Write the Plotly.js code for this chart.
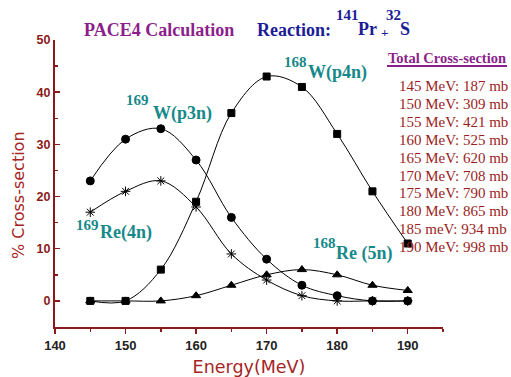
<!DOCTYPE html>
<html><head><meta charset="utf-8">
<script src="https://cdn.plot.ly/plotly-3.0.1.min.js"></script>
<style>html,body{margin:0;padding:0;background:#fff}#c{width:511px;height:377px}</style>
</head><body><div id="c"></div>
<script>
const energy = [145, 150, 155, 160, 165, 170, 175, 180, 185, 190];
const w_p3n  = [23, 31, 33, 27, 16, 8, 3, 1, 0, 0];
const re_4n  = [17, 21, 23, 18, 9, 4, 1, 0, 0, 0];
const w_p4n  = [0, 0, 6, 19, 36, 43, 41, 32, 21, 11];
const re_5n  = [0, 0, 0, 1, 3, 5, 6, 5, 3, 2];
const totalE = ['145 MeV', '150 MeV', '155 MeV', '160 MeV', '165 MeV', '170 MeV', '175 MeV', '180 MeV', '185 meV', '190 MeV'];
const totalCS = [187, 309, 421, 525, 620, 708, 790, 865, 934, 998];

const M = {l:55, r:68, t:40, b:50}, W = 511, H = 377;
const pw = W - M.l - M.r, ph = H - M.t - M.b;
const px = x => (x - M.l) / pw;
const py = y => (H - M.b - y) / ph;

function tr(y, sym, size) {
  return {
    x: energy, y: y, type: 'scatter', mode: 'lines+markers',
    line: {color: '#000', width: 1, shape: 'spline', smoothing: 1},
    marker: {symbol: sym, size: size, color: '#000', line: {color: '#000', width: 1}},
    hoverinfo: 'skip', showlegend: false
  };
}
const data = [
  tr(w_p3n, 'circle', 8),
  tr(re_4n, 'asterisk-open', 8),
  tr(w_p4n, 'square', 7),
  tr(re_5n, 'triangle-up', 8)
];

const serif = 'Liberation Serif, Times New Roman, serif';
const teal = '#17898a';
const blue = '#1c1c96';
const ann = [];
function A(x, y, text, size, color, xa, extra) {
  ann.push(Object.assign({x: px(x), y: py(y), text: text, xanchor: xa || 'left', yanchor: 'middle',
    font: {family: serif, size: size, color: color}}, extra || {}));
}
A(82, 30, '<b>PACE4 Calculation</b>', 18, '#8b1f8b');
A(255, 30, '<b>Reaction:</b>', 18, blue);
A(334, 15, '<b>141</b>', 15, blue);
A(356, 29, '<b>Pr</b>', 18, blue);
A(379, 33, '<b>+</b>', 13, blue);
A(384, 15, '<b>32</b>', 15, blue);
A(398, 29, '<b>S</b>', 18, blue);

A(124, 100, '<b>169</b>', 15, teal);
A(151, 113, '<b>W(p3n)</b>', 18, teal);
A(74, 225, '<b>169</b>', 15, teal);
A(98, 232, '<b>Re(4n)</b>', 18, teal);
A(282, 62, '<b>168</b>', 15, teal);
A(306, 72, '<b>W(p4n)</b>', 18, teal);
A(311, 243, '<b>168</b>', 15, teal);
A(334, 253, '<b>Re (5n)</b>', 18, teal);

A(447, 58, '<b>Total Cross-section</b>', 14.5, '#8b1f8b', 'center');
totalE.forEach((e, i) => {
  A(397, 86 + i * 17.9, e + ': ' + totalCS[i] + ' mb', 15, '#9a1e1e');
});
A(18, 195, '% Cross-section', 16, '#a52525', 'center', {textangle: -90, font: {family: 'DejaVu Sans, sans-serif', size: 16, color: '#a52525'}});
ann.forEach(a => { a.xref = 'paper'; a.yref = 'paper'; a.showarrow = false; });

const axisRed = '#8b1a1a';
const layout = {
  width: W, height: H, margin: M,
  paper_bgcolor: '#fff', plot_bgcolor: '#fff',
  xaxis: {
    range: [140, 195], tickvals: [140, 150, 160, 170, 180, 190],
    showgrid: false, zeroline: false, showline: true, linecolor: axisRed, linewidth: 2,
    ticks: 'outside', ticklen: 5, tickwidth: 1.5, tickcolor: axisRed,
    minor: {dtick: 5, tick0: 140, ticks: 'outside', ticklen: 3, tickcolor: axisRed},
    tickfont: {family: 'Liberation Sans, Arial, sans-serif', size: 13, color: '#222', weight: 'bold'},
    title: {text: 'Energy(MeV)', font: {family: 'DejaVu Sans, sans-serif', size: 17.5, color: '#a52525'}, standoff: 10}
  },
  yaxis: {
    range: [-5, 50], tickvals: [0, 10, 20, 30, 40, 50],
    showgrid: false, zeroline: false, showline: true, linecolor: axisRed, linewidth: 2,
    ticks: 'inside', ticklen: 5, tickwidth: 1.5, tickcolor: axisRed,
    minor: {dtick: 5, tick0: 0, ticks: 'inside', ticklen: 3, tickcolor: axisRed},
    tickfont: {family: 'Liberation Sans, Arial, sans-serif', size: 12.5, color: axisRed, weight: 'bold'}
  },
  annotations: ann,
  shapes: [
    {type: 'line', xref: 'paper', yref: 'paper', x0: px(387), x1: px(507), y0: py(66), y1: py(66),
     line: {color: '#8b1f8b', width: 2}}
  ]
};
Plotly.newPlot('c', data, layout, {displayModeBar: false, staticPlot: true});
</script></body></html>
